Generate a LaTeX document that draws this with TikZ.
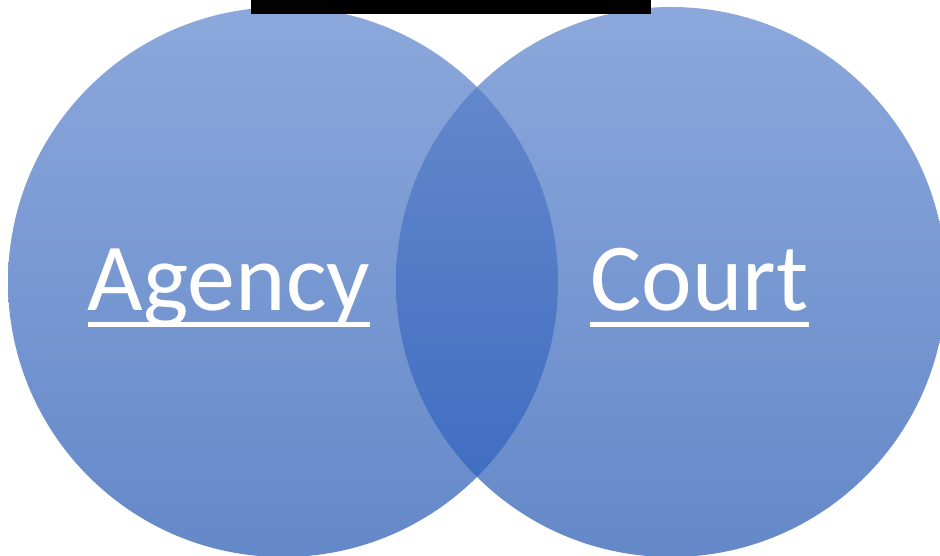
\documentclass[tikz,border=0pt]{standalone}
\usepackage{fontspec}
\setmainfont{Carlito}
\begin{document}
\begin{tikzpicture}[x=1pt,y=-1pt,
  lbl/.style={inner sep=0pt, anchor=base, text=white, font=\fontsize{96}{96}\selectfont},
  uline/.style={white, line width=5pt}]
\useasboundingbox (0,0) rectangle (940,556);
% circles
\shade[top color={rgb,255:red,140;green,168;blue,220}, bottom color={rgb,255:red,100;green,136;blue,200}]
  (283,282) circle[radius=275];
\shade[top color={rgb,255:red,140;green,168;blue,220}, bottom color={rgb,255:red,100;green,136;blue,200}]
  (671,282) circle[radius=275];
% lens
\begin{scope}
  \clip (283,282) circle[radius=275];
  \clip (671,282) circle[radius=275];
  \shade[top color={rgb,255:red,99;green,135;blue,203}, middle color={rgb,255:red,74;green,122;blue,208}, bottom color={rgb,255:red,64;green,110;blue,194}]
    (390,86) rectangle (564,478);
\end{scope}
% black bar
\fill[black] (251,0) rectangle (651,14);
% labels
\node[lbl] (agency) at (229,310) {Agency};
\node[lbl] (court) at (699.5,310) {Court};
\draw[uline] (agency.west |- 0,324) -- (agency.east |- 0,324);
\draw[uline] (court.west |- 0,324) -- (court.east |- 0,324);
\end{tikzpicture}
\end{document}
